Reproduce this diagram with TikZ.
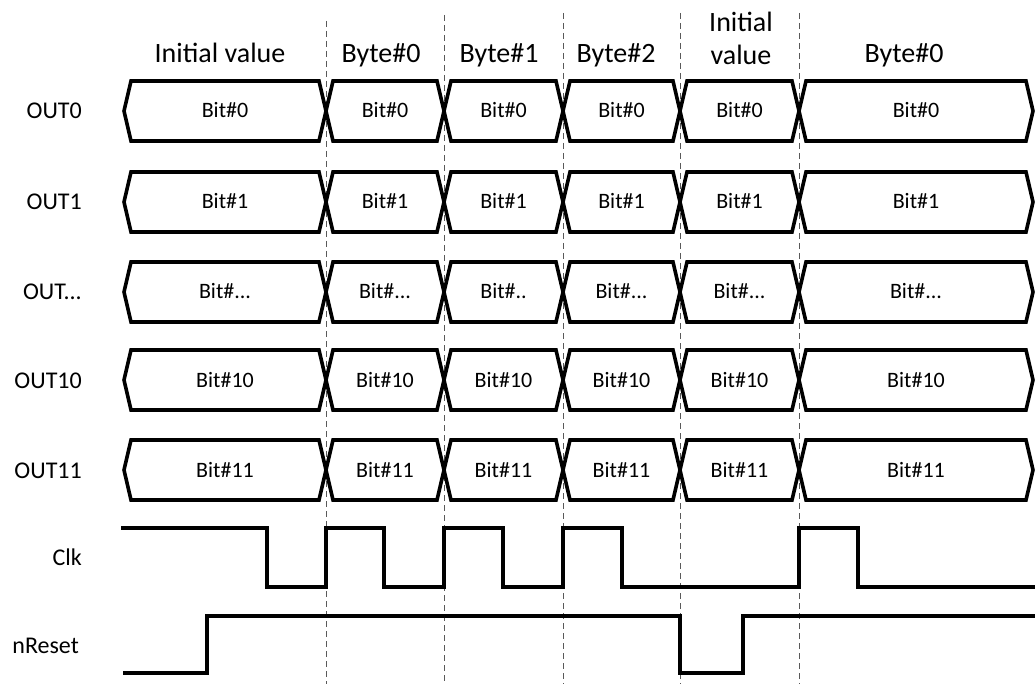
\documentclass[tikz,border=0pt]{standalone}
\usepackage{fontspec}
\setmainfont{Carlito}
\usetikzlibrary{positioning,calc}

\def\ellip{...}
\def\ellipshort{..}

\begin{document}
\begin{tikzpicture}[x=1pt, y=-1pt,
    bus/.style={line width=3.6pt, line join=miter},
    wave/.style={line width=3.4pt, line join=miter},
    guide/.style={black!65, line width=1pt, dash pattern=on 6pt off 4pt},
    sig/.style={anchor=base east, inner sep=0pt, font=\fontsize{24}{28}\selectfont},
    bit/.style={anchor=base, inner sep=0pt, font=\fontsize{22}{26}\selectfont},
    head/.style={anchor=base, inner sep=0pt, align=center, font=\fontsize{28}{33}\selectfont}]
    \useasboundingbox (0,0) rectangle (1035,684);

    \foreach \gx/\gy in {326/21,444/15,563/13,680/13,799/13}
        \draw[guide] (\gx,\gy) -- (\gx,684);

    \node[head] (hinit) at (220,63) {Initial value};
    \node[head] (hbyte0) at (381,63) {Byte\#0};
    \node[head] (hbyte1) at (499,63) {Byte\#1};
    \node[head] (hbyte2) at (616,63) {Byte\#2};
    \node[head] (hinit2) at (741,65) {Initial\\value};
    \node[head] (hbyte0b) at (904,63) {Byte\#0};

    \foreach \yc/\name/\bt [count=\r] in {111/OUT0/0, 202/OUT1/1, 292/OUT\ellip/\ellip,
                                         380/OUT10/10, 470/OUT11/11} {
        \node[sig] (out\r) at (82,\yc+8) {\name};
        \foreach \xa/\xb [count=\k] in {124/326,326/444,444/563,563/680,680/799,799/1033} {
            \draw[bus] (\xa,\yc) -- (\xa+7,\yc-30) -- (\xb-7,\yc-30) -- (\xb,\yc)
                -- (\xb-7,\yc+30) -- (\xa+7,\yc+30) -- cycle;
            \node[bit] (bit\r-\k) at ({(\xa+\xb)/2},\yc+7) {Bit\#\ifnum\r\k=33 \ellipshort\else\bt\fi};
        }
    }

    \node[sig] (clk) at (82,565) {Clk};
    \node[sig] (nreset) at (79,653) {nReset};

    \draw[wave] (121,528) -- (267,528) -- (267,587) -- (326,587) -- (326,528) -- (384,528)
        -- (384,587) -- (444,587) -- (444,528) -- (503,528) -- (503,587) -- (563,587)
        -- (563,528) -- (622,528) -- (622,587) -- (799,587) -- (799,528) -- (858,528)
        -- (858,587) -- (1035,587);
    \draw[wave] (123,673) -- (207,673) -- (207,616) -- (680,616) -- (680,673) -- (743,673)
        -- (743,616) -- (1035,616);
\end{tikzpicture}
\end{document}
